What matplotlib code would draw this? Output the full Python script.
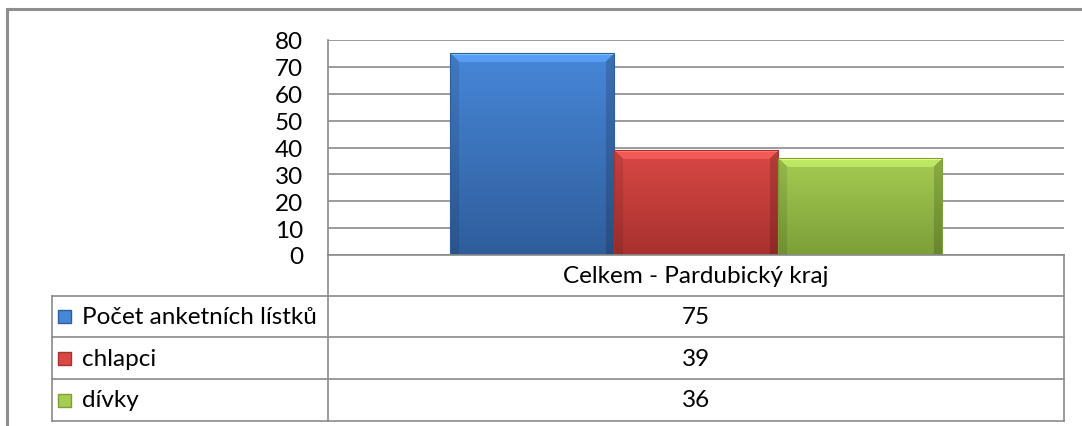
import numpy as np
import matplotlib
matplotlib.use("Agg")
import matplotlib.pyplot as plt
from matplotlib.patches import Rectangle
from matplotlib.colors import to_rgb
from matplotlib.lines import Line2D

plt.rcParams['font.family'] = ['Lato', 'DejaVu Sans']

category = "Celkem - Pardubický kraj"
series_names = ["Počet anketních lístků", "chlapci", "dívky"]
values = [75, 39, 36]
top_colors = ["#4787D8", "#D94845", "#A6CC52"]
bottom_colors = ["#2F5D9B", "#A8312E", "#7C9F38"]
yticks = [0, 10, 20, 30, 40, 50, 60, 70, 80]

W, H = 1082, 427
DPI = 100
fig = plt.figure(figsize=(W / DPI, H / DPI), dpi=DPI)
fig.patch.set_facecolor("white")

def fx(px):
    return px / W

def fy(py):
    return 1 - py / H

GRID = "#8A8A8A"
FS = 17.5

# outer chart border (top & left visible)
fig.add_artist(Line2D([fx(7), fx(7)], [fy(10), fy(430)], color="#8E8E8E", lw=2.2))
fig.add_artist(Line2D([fx(7), fx(1090)], [fy(10), fy(10)], color="#8E8E8E", lw=2.2))

L, R, T, B = 328, 1064, 41, 256
ax = fig.add_axes([fx(L), fy(B), fx(R - L), (B - T) / H])
ax.set_xlim(-0.5, 0.5)
ax.set_ylim(0, 80)
ax.set_yticks(yticks)
ax.set_yticklabels([str(t) for t in yticks], fontsize=FS)
ax.tick_params(axis="y", length=0, pad=18)
ax.set_xticks([])
for s in ["top", "right", "bottom"]:
    ax.spines[s].set_visible(False)
ax.spines["left"].set_color(GRID)
ax.spines["left"].set_linewidth(1.2)
ax.yaxis.grid(True, color=GRID, lw=1.2)
ax.set_axisbelow(True)

bw = 0.223
n = len(values)
xs = [(i - (n - 1) / 2) * bw for i in range(n)]
bars = ax.bar(xs, values, width=bw, color="none", edgecolor="none", zorder=3)

fig.canvas.draw()
for rect, tc, bc in zip(bars, top_colors, bottom_colors):
    x0, y0 = rect.get_x(), rect.get_y()
    x1, y1 = x0 + rect.get_width(), y0 + rect.get_height()
    (px0, py0), (px1, py1) = ax.transData.transform([(x0, y0), (x1, y1)])
    wpx = max(int(round(px1 - px0)), 2)
    hpx = max(int(round(py1 - py0)), 2)
    t = np.linspace(0, 1, hpx)[:, None]  # 0 top -> 1 bottom
    top = np.array(to_rgb(tc))
    bot = np.array(to_rgb(bc))
    img = top[None, None, :] * (1 - t[..., None]) + bot[None, None, :] * t[..., None]
    img = np.repeat(img, wpx, axis=1)
    bev = 9
    yy, xx = np.mgrid[0:hpx, 0:wpx]
    topband = (yy < bev) & (xx > yy) & (wpx - 1 - xx > yy)
    left = (xx < bev) & ~topband
    right = (wpx - 1 - xx < bev) & ~topband
    img[topband] = np.clip(img[topband] * 1.08 + 0.05, 0, 1)
    img[left] = img[left] * 0.90
    img[right] = img[right] * 0.84
    img[yy < 2] = np.clip(img[yy < 2] * 1.15 + 0.08, 0, 1)
    ax.imshow(img, extent=(x0, x1, y0, y1), aspect="auto", zorder=3,
              interpolation="bilinear")
    ax.add_patch(Rectangle((x0, y0), x1 - x0, y1 - y0, fill=False,
                           edgecolor=bc, lw=0.8, zorder=4))
ax.set_xlim(-0.5, 0.5)
ax.set_ylim(0, 80)

# data table
TL = 52
rows_y = [256, 297, 338, 380, 422]
lc = GRID
lw = 1.2
fig.add_artist(Line2D([fx(L), fx(R)], [fy(256), fy(256)], color=lc, lw=lw))
fig.add_artist(Line2D([fx(L), fx(L)], [fy(256), fy(422)], color=lc, lw=lw))
fig.add_artist(Line2D([fx(R), fx(R)], [fy(256), fy(422)], color=lc, lw=lw))
for yv in rows_y[1:]:
    fig.add_artist(Line2D([fx(TL), fx(R)], [fy(yv), fy(yv)], color=lc, lw=lw))
fig.add_artist(Line2D([fx(TL), fx(TL)], [fy(297), fy(422)], color=lc, lw=lw))

cx = fx((L + R) / 2)
fig.text(cx, fy((256 + 297) / 2), category, ha="center", va="center", fontsize=FS)
for i, (name, v, tc, bc) in enumerate(zip(series_names, values, top_colors, bottom_colors)):
    yc = (rows_y[i + 1] + rows_y[i + 2]) / 2
    fig.text(fx(82), fy(yc), name, ha="left", va="center", fontsize=FS)
    fig.text(cx, fy(yc), str(v), ha="center", va="center", fontsize=FS)
    ks = 13
    fig.add_artist(Rectangle((fx(58), fy(yc + ks / 2)), ks / W, ks / H,
                             facecolor=tc, edgecolor=bc, lw=1.0,
                             transform=fig.transFigure))

fig.savefig("out.png", dpi=DPI, facecolor="white")
